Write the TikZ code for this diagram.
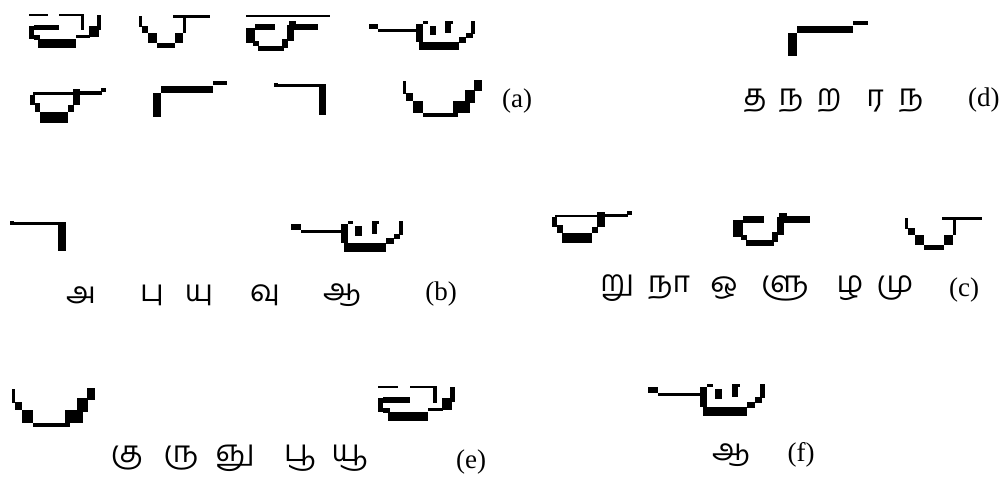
\documentclass[tikz,border=0pt]{standalone}
\usepackage{fontspec}
\setmainfont{Liberation Serif}
\newfontfamily\tamilfont[Script=Tamil]{Hind Madurai}
\tikzset{
  px/.style={fill=black},
  tam/.style={font=\tamilfont\fontsize{30}{36}\selectfont, inner sep=0pt},
  lbl/.style={font=\fontsize{27}{32}\selectfont, inner sep=0pt},
  strokeA/.pic={
    \fill[px] (0,0) rectangle (20,2);
    \fill[px] (32,0) rectangle (59,2);
    \fill[px] (55,0) rectangle (59,17);
    \fill[px] (72,1) rectangle (77,16);
    \fill[px] (64,12) rectangle (74,24);
    \fill[px] (50,22) rectangle (65,25);
    \fill[px] (10,26) rectangle (50,35);
    \fill[px] (0,12) rectangle (5,26);
    \fill[px] (5,22) rectangle (12,27);
    \fill[px] (5,11) rectangle (32,17);
  },
  strokeB/.pic={
    \fill[px] (0,1) rectangle (3,12);
    \fill[px] (3,11) rectangle (9,18);
    \fill[px] (9,18) rectangle (18,28);
    \fill[px] (18,28) rectangle (36,33);
    \fill[px] (36,18) rectangle (44,28);
    \fill[px] (44,3) rectangle (47,18);
    \fill[px] (34,0) rectangle (71,3);
  },
  strokeC/.pic={
    \fill[px] (9,9) rectangle (29,15);
    \fill[px] (0,13) rectangle (9,28);
    \fill[px] (7,26) rectangle (13,31);
    \fill[px] (12,31) rectangle (38,36);
    \fill[px] (36,24) rectangle (42,33);
    \fill[px] (41,10) rectangle (48,26);
    \fill[px] (43,6) rectangle (50,11);
    \fill[px] (48,9) rectangle (72,15);
  },
  topline/.pic={
    \fill[px] (0,0) rectangle (84,2);
  },
  strokeD/.pic={
    \fill[px] (0,3) rectangle (10,9);
    \fill[px] (10,9) rectangle (52,12);
    \fill[px] (59,0) rectangle (65,3);
    \fill[px] (52,3) rectangle (59,23);
    \fill[px] (67,5) rectangle (74,15);
    \fill[px] (84,0) rectangle (92,3);
    \fill[px] (84,0) rectangle (90,13);
    \fill[px] (112,0) rectangle (117,14);
    \fill[px] (107,13) rectangle (114,19);
    \fill[px] (99,18) rectangle (107,24);
    \fill[px] (55,23) rectangle (99,32);
  },
  strokeE/.pic={
    \fill[px] (0,6) rectangle (5,16);
    \fill[px] (3,4) rectangle (52,6);
    \fill[px] (5,14) rectangle (11,22);
    \fill[px] (10,22) rectangle (40,32);
    \fill[px] (40,16) rectangle (46,22);
    \fill[px] (45,1) rectangle (53,16);
    \fill[px] (53,3) rectangle (76,6);
    \fill[px] (75,0) rectangle (80,4);
  },
  strokeF/.pic={
    \fill[px] (0,12) rectangle (9,35);
    \fill[px] (9,5) rectangle (65,12);
    \fill[px] (65,0) rectangle (80,4);
  },
  strokeG/.pic={
    \fill[px] (0,0) rectangle (4,4);
    \fill[px] (0,1) rectangle (50,4);
    \fill[px] (48,1) rectangle (56,30);
  },
  strokeH/.pic={
    \fill[px] (0,1) rectangle (3,15);
    \fill[px] (3,14) rectangle (10,22);
    \fill[px] (10,22) rectangle (21,35);
    \fill[px] (21,35) rectangle (58,39);
    \fill[px] (53,22) rectangle (71,35);
    \fill[px] (65,10) rectangle (76,24);
    \fill[px] (75,0) rectangle (83,12);
  }
}
\begin{document}
\begin{tikzpicture}[x=1pt,y=-1pt]
\useasboundingbox (0,0) rectangle (1000,477);
% (a)
\pic[xscale=0.94,yscale=0.97] (a1) at (29,14) {strokeA};
\pic (a2) at (139,15) {strokeB};
\pic (a3) at (246,15) {strokeC};
\pic (a3t) at (246,15) {topline};
\pic[xscale=0.91,yscale=0.9] (a4) at (369,21) {strokeD};
\pic[xscale=0.95,yscale=1.09] (a5) at (30,88) {strokeE};
\pic[xscale=0.925,yscale=1.03] (a6) at (153,81) {strokeF};
\pic[xscale=0.93,yscale=1.07] (a7) at (274,83) {strokeG};
\pic[xscale=0.95,yscale=0.95] (a8) at (403,80) {strokeH};
\node[lbl] (la) at (517,101) {(a)};
% (d)
\pic (d1) at (788,21) {strokeF};
\node[tam] (d2) at (755,101) {த};
\node[tam] (d3) at (791,101) {ந};
\node[tam] (d4) at (829,101) {ற};
\node[tam] (d5) at (875,101) {ர};
\node[tam] (d6) at (911,101) {ந};
\node[lbl,anchor=west] (ld) at (968,100) {(d)};
% (b)
\pic (b1) at (10,221) {strokeG};
\pic[xscale=0.96,yscale=0.97] (b2) at (291,221) {strokeD};
\node[tam] (b3) at (81,295) {அ};
\node[tam] (b4) at (152,295) {பு};
\node[tam] (b5) at (199,295) {யு};
\node[tam] (b6) at (265,295) {வு};
\node[tam] (b7) at (342,295) {ஆ};
\node[lbl] (lb) at (441,294) {(b)};
% (c)
\pic (c1) at (552,211) {strokeE};
\pic[xscale=1.07,yscale=1.1] (c2) at (733,206) {strokeC};
\pic[xscale=1.08] (c3) at (905,217) {strokeB};
\node[tam] (c4) at (617,288) {று};
\node[tam] (c5) at (669,288) {நா};
\node[tam] (c6) at (724,288) {ஒ};
\node[tam] (c7) at (785,288) {ளு};
\node[tam] (c8) at (850,288) {ழ};
\node[tam] (c9) at (895,288) {மு};
\node[lbl] (lc) at (964,290) {(c)};
% (e)
\pic (e1) at (12,388) {strokeH};
\pic (e2) at (378,386) {strokeA};
\node[tam] (e3) at (127,458) {கு};
\node[tam] (e4) at (181,458) {ரு};
\node[tam] (e5) at (235,458) {ஞு};
\node[tam] (e6) at (300,458) {பூ};
\node[tam] (e7) at (350,458) {யூ};
\node[lbl] (le) at (471,462) {(e)};
% (f)
\pic (f1) at (648,384) {strokeD};
\node[tam] (f2) at (731,455) {ஆ};
\node[lbl] (lf) at (801,455) {(f)};
\end{tikzpicture}
\end{document}
